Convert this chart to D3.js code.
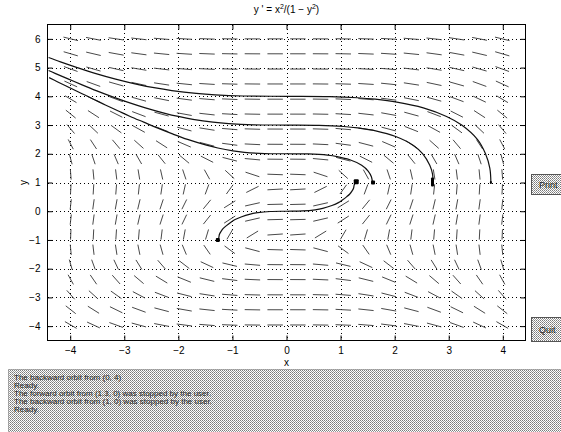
<!DOCTYPE html>
<html>
<head>
<meta charset="utf-8">
<script src="https://cdn.jsdelivr.net/npm/d3@7"></script>
<style>
body { margin: 0; background: #fff; }
text { font-family: "Liberation Sans", Arial, sans-serif; }
</style>
</head>
<body>
<script>
// tick values
const xTicks = [-4, -3, -2, -1, 0, 1, 2, 3, 4];
const yTicks = [-4, -3, -2, -1, 0, 1, 2, 3, 4, 5, 6];

// centres of the direction field segments
const fieldX = [-3.99, -3.57, -3.15, -2.73, -2.31, -1.89, -1.47, -1.05, -0.63, -0.21,
                0.21, 0.63, 1.05, 1.47, 1.89, 2.31, 2.73, 3.15, 3.57, 3.99];
const fieldY = [6.00, 5.48, 4.95, 4.43, 3.90, 3.38, 2.86, 2.33, 1.81, 1.28,
                0.76, 0.24, -0.29, -0.81, -1.34, -1.86, -2.38, -2.91, -3.43, -3.96];

// orbits
const orbit1 = [[-4.40,5.35],[-4.18,5.2],[-3.87,5.0],[-3.54,4.8],[-3.16,4.6],[-2.72,4.4],[-2.45,4.3],
  [-2.12,4.2],[-1.67,4.1],[-1.32,4.05],[-0.8,4.011],[0,4.0],[0.8,3.989],[1.31,3.95],[1.64,3.9],
  [2.04,3.8],[2.53,3.6],[2.96,3.3],[3.24,3.0],[3.53,2.5],[3.68,2.0],[3.76,1.5],[3.78,1.0]];
const orbit2 = [[-4.40,4.9],[-4.28,4.8],[-4.03,4.6],[-3.78,4.4],[-3.52,4.2],[-3.24,4.0],[-2.94,3.8],
  [-2.61,3.6],[-2.23,3.4],[-2.00,3.3],[-1.73,3.2],[-1.36,3.1],[-1.07,3.05],[-0.6,3.009],[0,3.0],
  [0.6,2.991],[1.06,2.95],[1.32,2.9],[1.65,2.8],[2.02,2.6],[2.34,2.3],[2.52,2.0],[2.65,1.6],
  [2.70,1.3],[2.71,1.0]];
const orbit3 = [[-4.39,4.65],[-4.23,4.5],[-4.01,4.3],[-3.79,4.1],[-3.57,3.9],[-3.35,3.7],[-3.12,3.5],
  [-2.89,3.3],[-2.64,3.1],[-2.39,2.9],[-2.12,2.7],[-1.83,2.5],[-1.48,2.3],[-1.27,2.2],[-0.99,2.1],
  [-0.78,2.05],[-0.4,2.007],[0,2.0],[0.4,1.993],[0.76,1.95],[0.94,1.9],[1.16,1.8],[1.39,1.6],
  [1.51,1.4],[1.57,1.2],[1.59,1.0]];
const orbit4 = [[-1.26,-1.0],[-1.25,-0.9],[-1.24,-0.8],[-1.21,-0.7],[-1.17,-0.6],[-1.11,-0.5],
  [-1.04,-0.4],[-0.96,-0.3],[-0.84,-0.2],[-0.67,-0.1],[-0.53,-0.05],[-0.3,-0.009],[0,0],
  [0.3,0.009],[0.53,0.05],[0.67,0.1],[0.84,0.2],[0.96,0.3],[1.04,0.4],[1.11,0.5],[1.17,0.6],
  [1.21,0.7],[1.24,0.8],[1.25,0.9],[1.27,1.0]];
const orbits = [orbit1, orbit2, orbit3, orbit4];

// end points where the orbits stopped
const stopX = [-1.27, 1.29, 1.60, 2.70, 3.78];
const stopY = [-1.00, 1.03, 1.00, 1.02, 1.00];
const stopW = [4, 5, 4, 3, 2];
const stopH = [4, 5, 4, 9, 3];

const messages = [
  "The backward orbit from (0, 4)",
  "Ready.",
  "The forward orbit from (1.3, 0) was stopped by the user.",
  "The backward orbit from (1, 0) was stopped by the user.",
  "Ready."
];

// y' = x^2/(1 - y^2), as in the title
const slope = (px, py) => px * px / (1 - py * py);

const W = 561, H = 432;
const x = d3.scaleLinear().domain([-4.42, 4.42]).range([47.5, 525.5]);
const y = d3.scaleLinear().domain([-4.5, 6.5]).range([340.5, 24.5]);

const svg = d3.select("body").append("svg").attr("width", W).attr("height", H);

const defs = svg.append("defs");
const pat = defs.append("pattern").attr("id", "stip")
  .attr("width", 2).attr("height", 2).attr("patternUnits", "userSpaceOnUse");
pat.append("rect").attr("width", 2).attr("height", 2).attr("fill", "#fff");
pat.append("rect").attr("width", 1).attr("height", 1).attr("fill", "#7a7a7a");
pat.append("rect").attr("x", 1).attr("y", 1).attr("width", 1).attr("height", 1).attr("fill", "#9a9a9a");
defs.append("clipPath").attr("id", "plotclip").append("rect")
  .attr("x", x.range()[0]).attr("y", y.range()[1])
  .attr("width", x.range()[1] - x.range()[0]).attr("height", y.range()[0] - y.range()[1]);

// title
const title = svg.append("text").attr("x", x(0)).attr("y", 13)
  .attr("text-anchor", "middle").attr("font-size", 10).attr("fill", "#000");
title.append("tspan").text("y ' = x");
title.append("tspan").attr("dy", -4).attr("font-size", 7).text("2");
title.append("tspan").attr("dy", 4).text("/(1 \u2212 y");
title.append("tspan").attr("dy", -4).attr("font-size", 7).text("2");
title.append("tspan").attr("dy", 4).text(")");

// grid
const grid = svg.append("g").attr("stroke", "#000").attr("stroke-width", 1)
  .attr("stroke-dasharray", "1,3").attr("shape-rendering", "crispEdges");
grid.selectAll(".gx").data(xTicks).join("line")
  .attr("x1", d => Math.round(x(d)) + 0.5).attr("x2", d => Math.round(x(d)) + 0.5)
  .attr("y1", y.range()[1]).attr("y2", y.range()[0]);
grid.selectAll(".gy").data(yTicks).join("line")
  .attr("y1", d => Math.round(y(d)) + 0.5).attr("y2", d => Math.round(y(d)) + 0.5)
  .attr("x1", x.range()[0]).attr("x2", x.range()[1]);

// direction field
const dxc = 0.42, dyc = 0.524, segLen = 0.68;
const cells = d3.cross(fieldX, fieldY);
svg.append("g").attr("stroke", "#333").attr("stroke-width", 0.9)
  .selectAll("line").data(cells).join("line")
  .each(function ([cx, cy]) {
    const f = slope(cx, cy);
    const a = segLen / Math.sqrt(1 / (dxc * dxc) + (f * f) / (dyc * dyc));
    d3.select(this)
      .attr("x1", x(cx - a / 2)).attr("y1", y(cy - a * f / 2))
      .attr("x2", x(cx + a / 2)).attr("y2", y(cy + a * f / 2));
  });

// orbits
const line = d3.line().x(d => x(d[0])).y(d => y(d[1])).curve(d3.curveCatmullRom.alpha(0.5));
svg.append("g").attr("clip-path", "url(#plotclip)")
  .selectAll("path").data(orbits).join("path")
  .attr("d", line).attr("fill", "none").attr("stroke", "#111").attr("stroke-width", 1.2);

svg.append("g").selectAll("rect").data(stopX).join("rect")
  .attr("x", (d, i) => x(d) - stopW[i] / 2).attr("y", (d, i) => y(stopY[i]) - stopH[i] / 2)
  .attr("width", (d, i) => stopW[i]).attr("height", (d, i) => stopH[i])
  .attr("rx", 1).attr("fill", "#000");

// axes
const fmt = d => d < 0 ? "\u2212" + Math.abs(d) : d;
const xAxis = d3.axisBottom(x).tickValues(xTicks).tickSizeInner(-5).tickSizeOuter(0)
  .tickPadding(6).tickFormat(fmt);
const yAxis = d3.axisLeft(y).tickValues(yTicks).tickSizeInner(-5).tickSizeOuter(0)
  .tickPadding(7).tickFormat(fmt);
svg.append("g").attr("transform", "translate(0," + y.range()[0] + ")").call(xAxis);
svg.append("g").attr("transform", "translate(" + x.range()[0] + ",0)").call(yAxis);
svg.append("g").attr("transform", "translate(0," + y.range()[1] + ")")
  .call(d3.axisTop(x).tickValues(xTicks).tickSizeInner(-5).tickSizeOuter(0).tickFormat(""));
svg.append("g").attr("transform", "translate(" + x.range()[1] + ",0)")
  .call(d3.axisRight(y).tickValues(yTicks).tickSizeInner(-5).tickSizeOuter(0).tickFormat(""));
svg.selectAll(".domain").remove();
svg.selectAll(".tick text").attr("font-size", 10).attr("font-family", "Liberation Sans, Arial, sans-serif");
svg.selectAll(".tick line").attr("stroke", "#000");
svg.append("rect").attr("x", x.range()[0]).attr("y", y.range()[1])
  .attr("width", x.range()[1] - x.range()[0]).attr("height", y.range()[0] - y.range()[1])
  .attr("fill", "none").attr("stroke", "#000").attr("stroke-width", 1);

svg.append("text").attr("x", x(0)).attr("y", 366).attr("text-anchor", "middle")
  .attr("font-size", 10).text("x");
svg.append("text").attr("transform", "translate(27," + y(1) + ") rotate(-90)")
  .attr("text-anchor", "middle").attr("font-size", 10).text("y");

// buttons at the right
const btns = [{label: "Print", top: 174, h: 20}, {label: "Quit", top: 317, h: 24}];
const bg = svg.append("g").selectAll("g").data(btns).join("g");
bg.append("rect").attr("x", 531.5).attr("y", d => d.top + 0.5).attr("width", 40)
  .attr("height", d => d.h).attr("fill", "url(#stip)").attr("stroke", "#555");
bg.append("text").attr("x", 539).attr("y", d => d.top + d.h / 2 + 3.5)
  .attr("font-size", 9).attr("fill", "#222").text(d => d.label);

// message box
svg.append("rect").attr("x", 8.5).attr("y", 369.5).attr("width", 560).attr("height", 70)
  .attr("fill", "url(#stip)").attr("stroke", "#666").attr("stroke-dasharray", "1,1");
svg.append("g").selectAll("text").data(messages).join("text")
  .attr("x", 14).attr("y", (d, i) => 380 + i * 8)
  .attr("font-size", 8).attr("fill", "#222").text(d => d);
</script>
</body>
</html>
